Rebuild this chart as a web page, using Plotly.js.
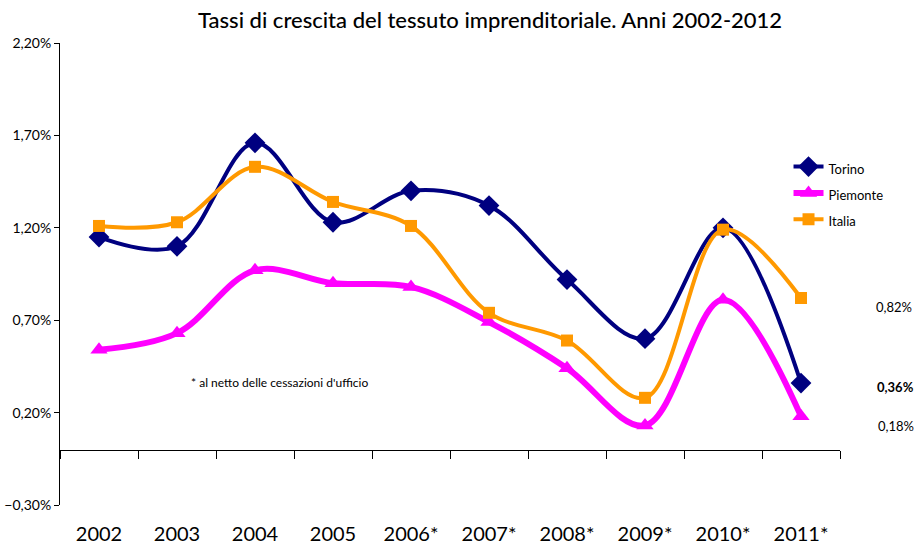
<!DOCTYPE html>
<html>
<head>
<meta charset="utf-8">
<script src="https://cdn.plot.ly/plotly-3.0.1.min.js"></script>
<style>html,body{margin:0;padding:0;background:#fff;}#chart{width:916px;height:547px;}</style>
</head>
<body>
<div id="chart"></div>
<script>
const years = ["2002","2003","2004","2005","2006*","2007*","2008*","2009*","2010*","2011*"];
const torino   = [1.15, 1.10, 1.66, 1.23, 1.40, 1.32, 0.92, 0.60, 1.20, 0.36];
const piemonte = [0.54, 0.63, 0.97, 0.90, 0.88, 0.69, 0.44, 0.13, 0.81, 0.18];
const italia   = [1.21, 1.23, 1.53, 1.34, 1.21, 0.74, 0.59, 0.28, 1.19, 0.82];
const seriesNames = ["Torino", "Piemonte", "Italia"];
const titleText = "Tassi di crescita del tessuto imprenditoriale. Anni 2002-2012";
const noteText = "* al netto delle cessazioni d'ufficio";

const FONT = "Lato, 'Open Sans', sans-serif";
const fmt = v => v.toFixed(2).replace('.', ',') + '%';
const last = a => a[a.length - 1];
const legName = n => '<span style="font-size:13px">' + n + '</span>';

const traces = [
  {x: years, y: torino, name: legName(seriesNames[0]), type: 'scatter', mode: 'lines+markers',
   line: {color: '#000080', width: 4, shape: 'spline', smoothing: 1},
   marker: {symbol: 'diamond', size: 16, color: '#000080'}},
  {x: years, y: piemonte, name: legName(seriesNames[1]), type: 'scatter', mode: 'lines+markers',
   line: {color: '#FF00FF', width: 6, shape: 'spline', smoothing: 1},
   marker: {symbol: 'triangle-up', size: 15, color: '#FF00FF'}},
  {x: years, y: italia, name: legName(seriesNames[2]), type: 'scatter', mode: 'lines+markers',
   line: {color: '#FF9900', width: 4, shape: 'spline', smoothing: 1},
   marker: {symbol: 'square', size: 12, color: '#FF9900'}}
];

const layout = {
  width: 916, height: 547,
  margin: {l: 60, r: 76, t: 43, b: 42},
  paper_bgcolor: '#fff', plot_bgcolor: '#fff',
  separators: ',.',
  font: {family: FONT, color: '#000', size: 12},
  title: {text: titleText, font: {family: FONT, size: 22, color: '#000', weight: 500},
          x: 0.535, xanchor: 'center', y: 0.962, yanchor: 'middle'},
  xaxis: {type: 'category', categoryarray: years, range: [-0.5, 9.5],
          anchor: 'free', position: 0.12,
          showline: true, linecolor: '#000', linewidth: 1,
          ticks: 'outside', ticklen: 8, tickcolor: '#000', tickson: 'boundaries',
          showgrid: false, zeroline: false,
          tickfont: {family: FONT, size: 20, color: '#000'},
          ticklabelstandoff: 66},
  yaxis: {range: [-0.3, 2.2], dtick: 0.5, tick0: -0.3, tickformat: '.2f', ticksuffix: '%',
          showline: true, linecolor: '#000', linewidth: 1,
          ticks: 'outside', ticklen: 5, tickcolor: '#000',
          showgrid: false, zeroline: false,
          tickfont: {family: FONT, size: 14, color: '#000'}},
  showlegend: true,
  legend: {x: 0.934, y: 0.772, xanchor: 'left', yanchor: 'top', xref: 'paper',
           font: {family: FONT, size: 18, color: '#000'}, bgcolor: 'rgba(0,0,0,0)',
           tracegroupgap: 0},
  annotations: [
    {xref: 'paper', yref: 'paper', x: 0.166, y: 0.245, xanchor: 'left', showarrow: false,
     text: noteText, font: {family: FONT, size: 12, color: '#000'}},
    {xref: 'paper', yref: 'y', x: 1.095, y: last(italia), yshift: -9, xanchor: 'right', showarrow: false,
     text: fmt(last(italia)), font: {family: FONT, size: 13, color: '#000'}},
    {xref: 'paper', yref: 'y', x: 1.097, y: last(torino), yshift: -4, xanchor: 'right', showarrow: false,
     text: '<b>' + fmt(last(torino)) + '</b>', font: {family: FONT, size: 13, color: '#000'}},
    {xref: 'paper', yref: 'y', x: 1.097, y: last(piemonte), yshift: -10, xanchor: 'right', showarrow: false,
     text: fmt(last(piemonte)), font: {family: FONT, size: 13, color: '#000'}}
  ]
};

Plotly.newPlot('chart', traces, layout, {displayModeBar: false, staticPlot: true});
</script>
</body>
</html>
